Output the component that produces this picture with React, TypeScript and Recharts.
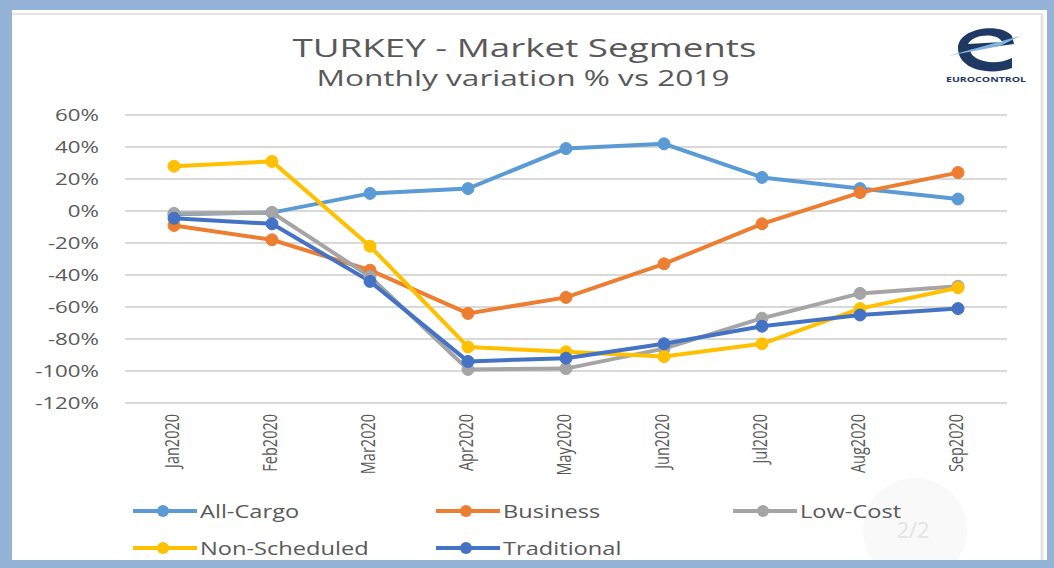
import React from "react";
import { LineChart, Line, XAxis, YAxis, CartesianGrid } from "recharts";

const months = ["Jan2020", "Feb2020", "Mar2020", "Apr2020", "May2020", "Jun2020", "Jul2020", "Aug2020", "Sep2020"];
const allCargo = [-2, -1, 11, 14, 39, 42, 21, 14, 7.5];
const business = [-9, -18, -37, -64, -54, -33, -8, 11.5, 24];
const lowCost = [-1.5, -1, -41, -99, -98.5, -86, -67, -51.5, -47];
const nonScheduled = [28, 31, -22, -85, -88, -91, -83, -61, -48];
const traditional = [-4.5, -8, -44, -94, -92, -83, -72, -65, -61];
const yTicks = [60, 40, 20, 0, -20, -40, -60, -80, -100, -120];

const series = [
    { key: "allCargo", name: "All-Cargo", color: "#5b9bd5", values: allCargo },
    { key: "business", name: "Business", color: "#ed7d31", values: business },
    { key: "lowCost", name: "Low-Cost", color: "#a5a5a5", values: lowCost },
    { key: "nonScheduled", name: "Non-Scheduled", color: "#ffc000", values: nonScheduled },
    { key: "traditional", name: "Traditional", color: "#4472c4", values: traditional },
];

const data = months.map((m, i) => {
    const row: Record<string, string | number> = { month: m };
    series.forEach((s) => { row[s.key] = s.values[i]; });
    return row;
});

// legend slots: row 1 three items, row 2 two items
const legendSlots = [
    { left: 133, top: 511 },
    { left: 436, top: 511 },
    { left: 733, top: 511 },
    { left: 133, top: 548 },
    { left: 436, top: 548 },
];

const FONT = "'Open Sans', sans-serif";
const TEXT = "#595959";
const STRETCH = 1.35;
const FRAME = "#95b3d7";

function YTick(props: any) {
    const { x, y, payload } = props;
    return (
        <g transform={`translate(${x},${y})`}>
            <text transform={`scale(${STRETCH},1)`} textAnchor="end" dy="0.36em" fontSize={16.5} fill={TEXT} fontFamily={FONT}>
                {payload.value}%
            </text>
        </g>
    );
}

function XTick(props: any) {
    const { x, y, payload } = props;
    return (
        <g transform={`translate(${x + 5},${y}) scale(${STRETCH},1) rotate(-90)`}>
            <text textAnchor="end" fontSize={14.5} fill={TEXT} fontFamily={FONT}>
                {payload.value}
            </text>
        </g>
    );
}

function Logo() {
    return (
        <g>
            <path d="M958 48 C958 28 1000 22 1012 36 L1014 44 L970 50 C972 62 996 66 1012 58 L1012 68 C990 76 958 70 958 48 Z" fill="#1f3864" />
            <path d="M948 56 L1020 36 L1000 46 Z" fill="#7fb2dc" />
            <path d="M968 44 C972 34 998 32 1002 42 Z" fill="#ffffff" />
            <text x={986} y={82} textAnchor="middle" fontSize={7} fontWeight={700} fill="#1f3864" fontFamily={FONT} textLength={80} lengthAdjust="spacingAndGlyphs">
                EUROCONTROL
            </text>
        </g>
    );
}

export default function App() {
    return (
        <div style={{ position: "absolute", left: 0, top: 0, width: 1054, height: 568, background: "#ffffff", fontFamily: FONT, overflow: "hidden" }}>
            <svg width={1054} height={568} style={{ position: "absolute", left: 0, top: 0 }}>
                <circle cx={915} cy={530} r={52} fill="#f9f9f9" />
                <text x={913} y={538} textAnchor="middle" fontSize={22} fill="#e3e3e3" fontFamily={FONT}>2/2</text>
                <text x={524.5} y={57} textAnchor="middle" fontSize={25} fill={TEXT} fontFamily={FONT} textLength={464} lengthAdjust="spacingAndGlyphs">
                    TURKEY - Market Segments
                </text>
                <text x={523} y={86} textAnchor="middle" fontSize={21.5} fill={TEXT} fontFamily={FONT} textLength={413} lengthAdjust="spacingAndGlyphs">
                    Monthly variation % vs 2019
                </text>
                <Logo />
            </svg>
            <div style={{ position: "absolute", left: 0, top: 0 }}>
                <LineChart width={1054} height={568} data={data} margin={{ top: 115, right: 47, bottom: 0, left: 0 }}>
                    <CartesianGrid vertical={false} stroke="#d9d9d9" strokeWidth={2} />
                    <XAxis
                        dataKey="month"
                        height={165}
                        axisLine={false}
                        tickLine={false}
                        tickSize={0}
                        tickMargin={11}
                        padding={{ left: 49, right: 49 }}
                        interval={0}
                        tick={<XTick />}
                    />
                    <YAxis
                        width={125}
                        domain={[-120, 60]}
                        ticks={yTicks}
                        axisLine={false}
                        tickLine={false}
                        tickSize={0}
                        tickMargin={26}
                        interval={0}
                        tick={<YTick />}
                    />
                    {series.map((s) => (
                        <Line
                            key={s.key}
                            type="linear"
                            dataKey={s.key}
                            name={s.name}
                            stroke={s.color}
                            strokeWidth={4}
                            dot={{ r: 6, fill: s.color, stroke: s.color, strokeWidth: 1 }}
                            isAnimationActive={false}
                        />
                    ))}
                </LineChart>
            </div>
            {series.map((s, i) => (
                <div key={s.key} style={{ position: "absolute", left: legendSlots[i].left, top: legendSlots[i].top - 12, height: 24, display: "flex", alignItems: "center" }}>
                    <svg width={64} height={24}>
                        <line x1={0} y1={12} x2={64} y2={12} stroke={s.color} strokeWidth={4} />
                        <circle cx={30} cy={12} r={6} fill={s.color} />
                    </svg>
                    <span style={{ display: "inline-block", marginLeft: 3, fontSize: 17.5, color: TEXT, transform: `scaleX(${STRETCH})`, transformOrigin: "left center", whiteSpace: "nowrap" }}>
                        {s.name}
                    </span>
                </div>
            ))}
            {/* slide frame */}
            <svg width={1054} height={568} style={{ position: "absolute", left: 0, top: 0, pointerEvents: "none" }}>
                <line x1={12} y1={14} x2={1043} y2={14} stroke="#e3e3e3" strokeWidth={2} />
                <line x1={1042} y1={14} x2={1042} y2={560} stroke="#e3e3e3" strokeWidth={3} />
                <rect x={0} y={0} width={1054} height={10} fill={FRAME} />
                <rect x={0} y={0} width={12} height={568} fill={FRAME} />
                <rect x={1047} y={0} width={7} height={568} fill={FRAME} />
                <rect x={0} y={560} width={1054} height={8} fill={FRAME} />
            </svg>
        </div>
    );
}
